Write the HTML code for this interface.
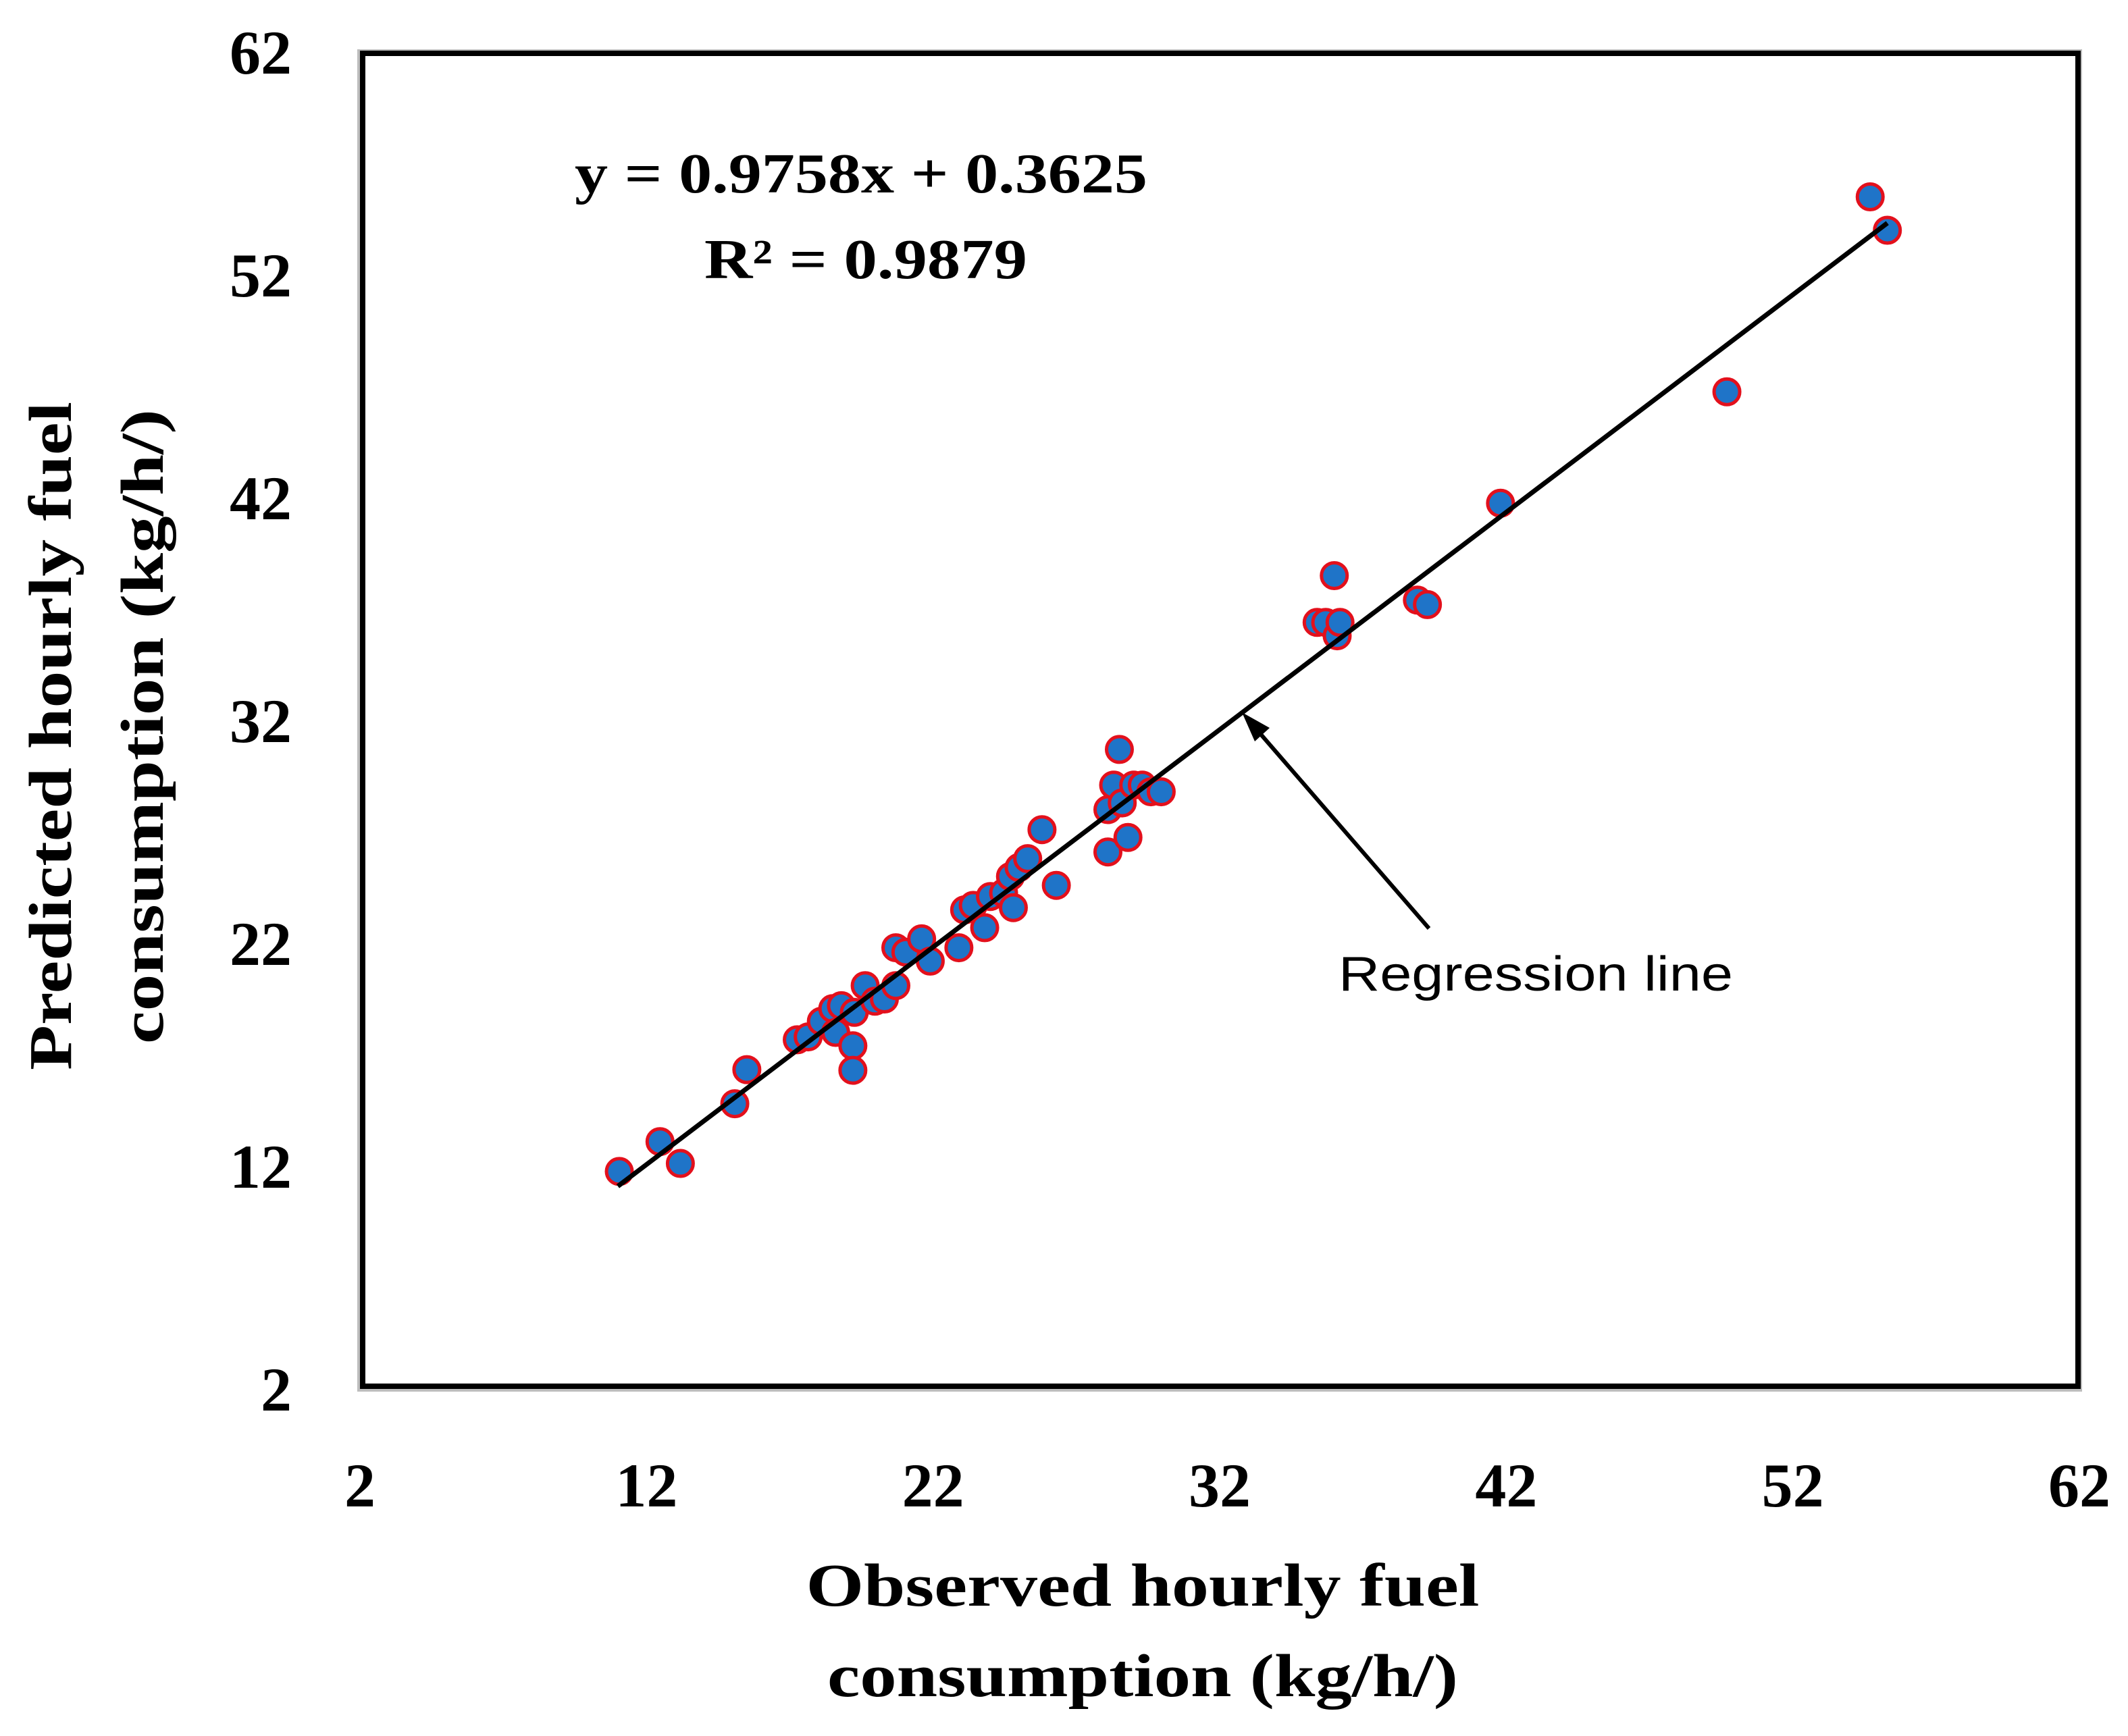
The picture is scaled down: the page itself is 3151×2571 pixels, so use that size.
<!DOCTYPE html>
<html><head><meta charset="utf-8"><style>
html,body{margin:0;padding:0;background:#fff;}
svg{display:block;}
text{font-family:"Liberation Serif",serif;font-weight:bold;fill:#000;}
</style></head><body>
<svg id="chart" width="3151" height="2571" viewBox="0 0 3151 2571" xmlns="http://www.w3.org/2000/svg">
<rect x="0" y="0" width="3151" height="2571" fill="#fff"/>
<g id="grid-layer"></g>
<rect x="531" y="75" width="2550" height="1984" fill="none" stroke="#bdbdbd" stroke-width="4"/>
<rect x="537" y="79" width="2540" height="1974" fill="none" stroke="#000" stroke-width="8"/>
<g id="ticks"></g>
<g id="marks"></g>
<text x="1275" y="285" font-size="84" text-anchor="middle" textLength="848" lengthAdjust="spacingAndGlyphs">y = 0.9758x + 0.3625</text>
<text x="1282" y="412" font-size="84" text-anchor="middle" textLength="478" lengthAdjust="spacingAndGlyphs">R² = 0.9879</text>
<text x="1982" y="1467" font-size="72" style="font-family:'Liberation Sans',sans-serif;font-weight:normal" textLength="584" lengthAdjust="spacingAndGlyphs">Regression line</text>
<g>
<line x1="2116" y1="1375" x2="1850" y2="1068" stroke="#000" stroke-width="6"/>
<polygon points="1839,1055 1880,1078 1858,1098" fill="#000"/>
</g>
<text x="1692" y="2378" font-size="90" text-anchor="middle" textLength="997" lengthAdjust="spacingAndGlyphs">Observed  hourly fuel</text>
<text x="1692" y="2512" font-size="90" text-anchor="middle" textLength="934" lengthAdjust="spacingAndGlyphs">consumption (kg/h/)</text>
<text transform="translate(105,1090) rotate(-90)" font-size="90" text-anchor="middle" textLength="990" lengthAdjust="spacingAndGlyphs">Predicted  hourly fuel</text>
<text transform="translate(241,1076) rotate(-90)" font-size="90" text-anchor="middle" textLength="940" lengthAdjust="spacingAndGlyphs">consumption (kg/h/)</text>
</svg>
<script>
const xTicks = [2, 12, 22, 32, 42, 52, 62];
const yTicks = [2, 12, 22, 32, 42, 52, 62];
const observed = [11.05,12.47,13.18,15.08,15.5,17.26,17.64,18.1,18.5,18.8,18.6,19.2,19.2,19.25,19.63,19.97,20.3,20.7,20.7,21.05,21.6,21.9,22.9,23.1,23.4,23.8,24.0,24.46,24.7,24.8,25.0,25.3,25.8,26.3,28.1,28.1,28.3,28.5,28.6,28.8,29.0,29.3,29.6,29.96,35.4,35.7,36.0,36.1,36.2,38.9,39.25,41.8,49.7,54.7,55.3];
const predicted = [11.76,13.1,12.12,14.8,16.33,17.67,17.8,18.5,19.07,19.2,18.0,17.4,16.3,18.9,20.1,19.4,19.5,20.1,21.8,21.6,22.2,21.2,21.8,23.5,23.7,22.7,24.1,24.26,25.0,23.6,25.4,25.8,27.1,24.6,26.1,28.0,29.1,30.7,28.3,26.75,29.1,29.1,28.8,28.8,36.4,36.4,38.5,35.8,36.4,37.4,37.2,41.75,46.75,55.5,54.0];
const slope = 0.9758, intercept = 0.3625;
const lineRange = [11.0, 55.3];

const X0=533, X1=3079, Y0=2057, Y1=77, VMIN=2, VMAX=62;
function sx(v){return X0+(v-VMIN)/(VMAX-VMIN)*(X1-X0);}
function sy(v){return Y0-(v-VMIN)/(VMAX-VMIN)*(Y0-Y1);}
const NS='http://www.w3.org/2000/svg';
const ticks=document.getElementById('ticks');
xTicks.forEach(t=>{
  const e=document.createElementNS(NS,'text');
  
  
  e.setAttribute('x',sx(t));e.setAttribute('y',2231);
  e.setAttribute('font-size','92');e.setAttribute('text-anchor','middle');
  e.textContent=t;ticks.appendChild(e);
});
yTicks.forEach(t=>{
  const e=document.createElementNS(NS,'text');
  
  
  e.setAttribute('x',432);e.setAttribute('y',sy(t)+32);
  e.setAttribute('font-size','92');e.setAttribute('text-anchor','end');
  e.textContent=t;ticks.appendChild(e);
});
const marks=document.getElementById('marks');
observed.forEach((o,i)=>{
  const c=document.createElementNS(NS,'circle');
  
  
  c.setAttribute('cx',sx(o));c.setAttribute('cy',sy(predicted[i]));
  c.setAttribute('r','19');c.setAttribute('fill','#1f74c8');
  c.setAttribute('stroke','#e3101c');c.setAttribute('stroke-width','5');
  marks.appendChild(c);
});
const ln=document.createElementNS(NS,'line');


ln.setAttribute('x1',sx(lineRange[0]));ln.setAttribute('y1',sy(slope*lineRange[0]+intercept));
ln.setAttribute('x2',sx(lineRange[1]));ln.setAttribute('y2',sy(slope*lineRange[1]+intercept));
ln.setAttribute('stroke','#000');ln.setAttribute('stroke-width','7');
marks.appendChild(ln);
</script>
</body></html>
